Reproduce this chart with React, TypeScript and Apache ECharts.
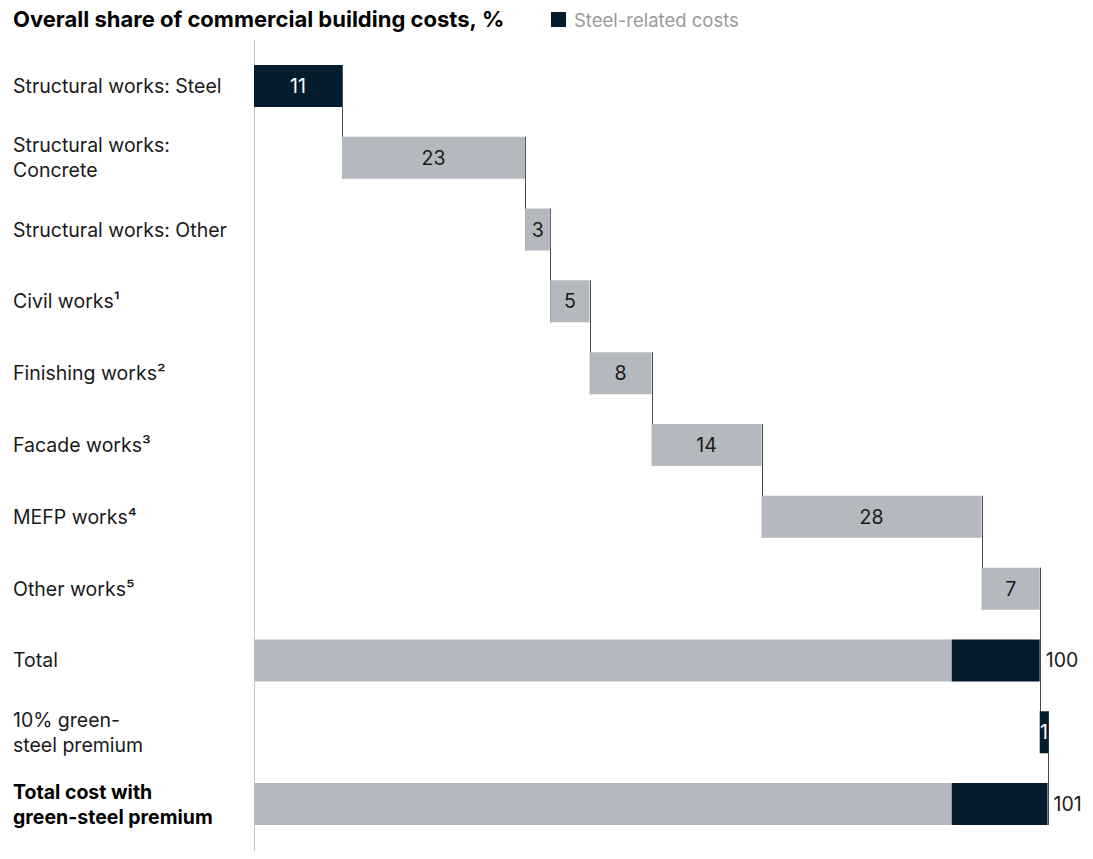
import React, { useEffect, useRef } from "react";
import * as echarts from "echarts";

const categories = [
  "Structural works: Steel",
  "Structural works:\nConcrete",
  "Structural works: Other",
  "Civil works¹",
  "Finishing works²",
  "Facade works³",
  "MEFP works⁴",
  "Other works⁵",
  "Total",
  "10% green-\nsteel premium",
  "Total cost with\ngreen-steel premium",
];
// invisible offsets for the floating bars
const baseValues = [0, 11.2, 34.5, 37.7, 42.7, 50.6, 64.6, 92.6, 0, 100, 0];
// non-steel costs (grey)
const otherValues: (number | string)[] = ["-", 23.3, 3.2, 5.0, 7.9, 14.0, 28.0, 7.4, 88.8, "-", 88.8];
// steel-related costs (dark)
const steelValues: (number | string)[] = [11.2, "-", "-", "-", "-", "-", "-", "-", 11.2, 1.1, 12.2];
const totalLabels = ["", "", "", "", "", "", "", "", "100", "1", "101"];

const DARK = "#051c2c";
const GREY = "#b3b9bf";
const FONT = "Inter, 'Liberation Sans', Arial, sans-serif";
const FS = 19.5;

export default function App() {
  const ref = useRef<HTMLDivElement>(null);
  useEffect(() => {
    const chart = echarts.init(ref.current!, undefined, { renderer: "svg" });
    const n = categories.length;
    const ends = categories.map((_, i) => {
      const b = baseValues[i];
      const o = typeof otherValues[i] === "number" ? (otherValues[i] as number) : 0;
      const s = typeof steelValues[i] === "number" ? (steelValues[i] as number) : 0;
      return b + o + s;
    });
    const connectors = ends.slice(0, n - 1).map((x, i) => [x, i]);
    const lastIdx = n - 1;
    chart.setOption({
      animation: false,
      textStyle: { fontFamily: FONT },
      title: {
        left: 13,
        top: 6,
        padding: 0,
        text: "{b|Overall share of commercial building costs,}{n| %}",
        textStyle: {
          rich: {
            b: { fontFamily: FONT, fontSize: 22, fontWeight: "bold", color: "#000", lineHeight: 26 },
            n: { fontFamily: FONT, fontSize: 22, color: "#000", lineHeight: 26 },
          },
        },
      },
      legend: {
        left: 546,
        top: 5,
        itemWidth: 15,
        itemHeight: 15,
        itemGap: 6,
        icon: "rect",
        data: [{ name: "Steel-related costs", itemStyle: { color: DARK } }],
        textStyle: { fontFamily: FONT, fontSize: 18.5, color: "#9a9a9a", padding: [1, 0, 0, 3] },
        selectedMode: false,
      },
      grid: { left: 254, right: 14, top: 50, height: 790 },
      xAxis: {
        type: "value",
        min: 0,
        max: 105,
        show: false,
      },
      yAxis: {
        type: "category",
        data: categories,
        inverse: true,
        axisLine: { show: false },
        axisTick: { show: false },
        axisLabel: {
          align: "left",
          margin: 241,
          formatter: (v: string) => {
            const tag = v === categories[lastIdx] ? "b" : "n";
            return v
              .split("\n")
              .map((l) => `{${tag}|${l}}`)
              .join("\n");
          },
          rich: {
            n: { fontFamily: FONT, fontSize: FS, color: "#1a1a1a", lineHeight: 25 },
            b: { fontFamily: FONT, fontSize: FS, fontWeight: "bold", color: "#000", lineHeight: 25 },
          },
        },
      },
      graphic: [
        {
          type: "line",
          z: -10,
          shape: { x1: 254.5, y1: 40, x2: 254.5, y2: 858 },
          style: { stroke: "#c8c8c8", lineWidth: 1 },
        },
      ],
      series: [
        {
          type: "custom",
          name: "connectors",
          z: 1,
          data: connectors,
          encode: { x: 0, y: 1 },
          renderItem: (params: any, api: any) => {
            const x = api.value(0);
            const i = api.value(1);
            const p1 = api.coord([x, i]);
            const p2 = api.coord([x, i + 1]);
            const band = api.size([0, 1])[1];
            const half = (band * 0.585) / 2;
            const xx = Math.round(p1[0]) + 0.5;
            return {
              type: "line",
              shape: { x1: xx, y1: p1[1] - half, x2: xx, y2: p2[1] + half },
              style: { stroke: "#4a4a4a", lineWidth: 1 },
            };
          },
          silent: true,
        },
        {
          type: "bar",
          name: "base",
          stack: "w",
          barWidth: "58.5%",
          data: baseValues,
          itemStyle: { color: "transparent" },
          silent: true,
          z: 2,
        },
        {
          type: "bar",
          name: "Other costs",
          stack: "w",
          barWidth: "58.5%",
          data: otherValues,
          itemStyle: { color: GREY },
          z: 2,
          label: {
            show: true,
            position: "inside",
            fontFamily: FONT,
            fontSize: FS,
            color: "#1a1a1a",
            formatter: (p: any) => (p.dataIndex >= 8 ? "" : String(Math.round(p.value))),
          },
        },
        {
          type: "bar",
          name: "Steel-related costs",
          stack: "w",
          barWidth: "58.5%",
          data: steelValues,
          itemStyle: { color: DARK },
          z: 2,
          label: {
            show: true,
            position: "inside",
            fontFamily: FONT,
            fontSize: FS,
            color: "#fff",
            formatter: (p: any) => (p.dataIndex === 0 ? String(Math.round(p.value)) : p.dataIndex === 9 ? totalLabels[9] : ""),
          },
        },
        {
          type: "bar",
          name: "totals",
          stack: "w",
          barWidth: "58.5%",
          data: totalLabels.map((t) => (t === "100" || t === "101" ? 0 : "-")),
          itemStyle: { color: "transparent" },
          silent: true,
          z: 3,
          label: {
            show: true,
            position: "right",
            distance: 6,
            fontFamily: FONT,
            fontSize: FS,
            color: "#1a1a1a",
            formatter: (p: any) => totalLabels[p.dataIndex],
          },
        },
      ],
    });
    return () => chart.dispose();
  }, []);
  return <div ref={ref} style={{ width: 1093, height: 859, margin: -8 }} />;
}
